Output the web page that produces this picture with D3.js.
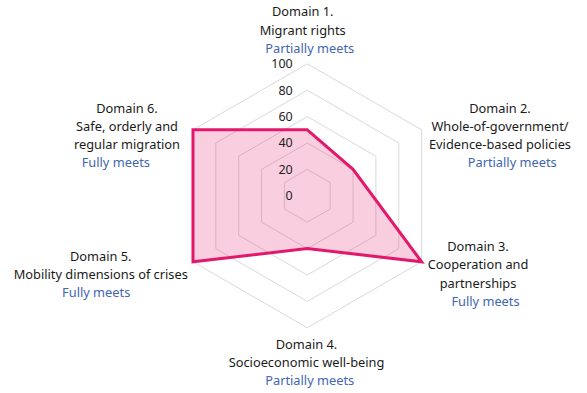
<!DOCTYPE html>
<html><head><meta charset="utf-8">
<script src="https://cdn.jsdelivr.net/npm/d3@7"></script>
<style>body{margin:0;background:#fff}svg{display:block}</style>
</head><body>
<script>
const domains = ["Domain 1.", "Domain 2.", "Domain 3.", "Domain 4.", "Domain 5.", "Domain 6."];
const domainNames = [["Migrant rights"], ["Whole-of-government/", "Evidence-based policies"], ["Cooperation and", "partnerships"], ["Socioeconomic well-being"], ["Mobility dimensions of crises"], ["Safe, orderly and", "regular migration"]];
const statuses = ["Partially meets", "Partially meets", "Fully meets", "Partially meets", "Fully meets", "Fully meets"];
const values = [50, 40, 100, 40, 100, 100];
const tickValues = [0, 20, 40, 60, 80, 100];

const W = 587, H = 393, cx = 307.3, cy = 195.8, R = 132;
const svg = d3.select("body").append("svg").attr("width", W).attr("height", H);
const r = d3.scaleLinear().domain([0, 100]).range([0, R]);
const ang = d3.scaleLinear().domain([0, domains.length]).range([0, 2 * Math.PI]);
const pt = (i, v) => [cx + r(v) * Math.sin(ang(i)), cy - r(v) * Math.cos(ang(i))];
const g = svg.append("g");
const line = d3.line().curve(d3.curveLinearClosed);

// grid rings
tickValues.filter(t => t > 0).forEach(t => {
  g.append("path").attr("d", line(domains.map((d, i) => pt(i, t))))
    .attr("fill", "none").attr("stroke", "#d9d9d9").attr("stroke-width", 1);
});
// data polygon
g.append("path").attr("d", line(values.map((v, i) => pt(i, v))))
  .attr("fill", "rgba(228,30,110,0.22)").attr("stroke", "#e3186c").attr("stroke-width", 3)
  .attr("stroke-linejoin", "miter");

// tick labels
g.selectAll(".tick").data(tickValues).enter().append("text")
  .attr("x", cx - 14.6).attr("y", t => cy - r(t)).attr("dy", "0.35em")
  .attr("text-anchor", "end").attr("font-family", "'Noto Sans', sans-serif")
  .attr("font-size", 12.5).attr("fill", "#222").text(t => t);

// labels: [centerX of name block, y of first line, status x]
const labelPos = [
  [302.7, 12, 309.7],
  [500, 108.3, 512.2],
  [478, 246.7, 485.5],
  [306.5, 344.3, 309.7],
  [100.8, 256.7, 96.2],
  [127, 108.3, 115.8]
];
const lh = 18.3;
domains.forEach((d, i) => {
  const [x, y0, sx] = labelPos[i];
  const lines = [d].concat(domainNames[i]);
  lines.forEach((t, k) => {
    svg.append("text").attr("x", x).attr("y", y0 + k * lh).attr("dy", "0.35em")
      .attr("text-anchor", "middle").attr("font-family", "'Noto Sans', sans-serif")
      .attr("font-size", 12.8).attr("fill", "#1a1a1a").text(t);
  });
  svg.append("text").attr("x", sx).attr("y", y0 + lines.length * lh - 0.5).attr("dy", "0.35em")
    .attr("text-anchor", "middle").attr("font-family", "'Noto Sans', sans-serif")
    .attr("font-size", 12.8).attr("fill", "#3f66b0").text(statuses[i]);
});
</script>
</body></html>
